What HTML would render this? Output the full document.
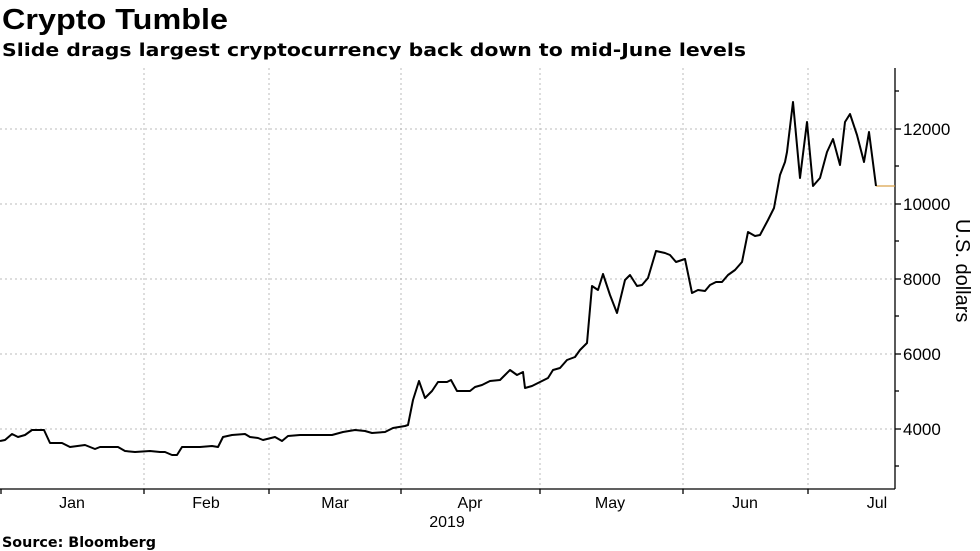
<!DOCTYPE html>
<html><head><meta charset="utf-8"><style>body{margin:0;background:#fff}svg{display:block}</style></head><body>
<svg width="980" height="551" xmlns="http://www.w3.org/2000/svg" font-family="Liberation Sans, DejaVu Sans, sans-serif">
<rect width="980" height="551" fill="#fff"/>
<text x="2" y="29" font-size="29" font-weight="bold" textLength="226" lengthAdjust="spacingAndGlyphs">Crypto Tumble</text>
<text x="2" y="56" font-size="18" font-weight="bold" font-family="DejaVu Sans, sans-serif" textLength="744" lengthAdjust="spacingAndGlyphs">Slide drags largest cryptocurrency back down to mid-June levels</text>
<g stroke="#bbb" stroke-dasharray="2,3" stroke-width="1">
<line x1="0" y1="129" x2="895" y2="129"/><line x1="0" y1="204" x2="895" y2="204"/><line x1="0" y1="279" x2="895" y2="279"/><line x1="0" y1="354" x2="895" y2="354"/><line x1="0" y1="429" x2="895" y2="429"/>
<line x1="144" y1="68" x2="144" y2="489"/><line x1="269" y1="68" x2="269" y2="489"/><line x1="401" y1="68" x2="401" y2="489"/><line x1="540" y1="68" x2="540" y2="489"/><line x1="683" y1="68" x2="683" y2="489"/><line x1="808" y1="68" x2="808" y2="489"/>
</g>
<g stroke="#000" stroke-width="1.3">
<line x1="0" y1="489" x2="895" y2="489"/><line x1="895" y1="68" x2="895" y2="489"/>
<line x1="1" y1="489" x2="1" y2="494"/><line x1="144" y1="489" x2="144" y2="494"/><line x1="269" y1="489" x2="269" y2="494"/><line x1="401" y1="489" x2="401" y2="494"/><line x1="540" y1="489" x2="540" y2="494"/><line x1="683" y1="489" x2="683" y2="494"/><line x1="808" y1="489" x2="808" y2="494"/>
<line x1="895" y1="91" x2="899" y2="91"/><line x1="895" y1="129" x2="901" y2="129"/><line x1="895" y1="166" x2="899" y2="166"/><line x1="895" y1="204" x2="901" y2="204"/><line x1="895" y1="241" x2="899" y2="241"/><line x1="895" y1="279" x2="901" y2="279"/><line x1="895" y1="316" x2="899" y2="316"/><line x1="895" y1="354" x2="901" y2="354"/><line x1="895" y1="391" x2="899" y2="391"/><line x1="895" y1="429" x2="901" y2="429"/><line x1="895" y1="466" x2="899" y2="466"/>
</g>
<g font-size="17" fill="#000">
<text x="903" y="135">12000</text><text x="903" y="210">10000</text><text x="903" y="285">8000</text><text x="903" y="360">6000</text><text x="903" y="435">4000</text>
</g>
<text transform="translate(956,219) rotate(90)" font-size="20">U.S. dollars</text>
<g font-size="16" text-anchor="middle">
<text x="72" y="508">Jan</text><text x="206" y="508">Feb</text><text x="335" y="508">Mar</text><text x="470" y="508">Apr</text><text x="610" y="508">May</text><text x="745" y="508">Jun</text><text x="877" y="508">Jul</text><text x="447" y="527">2019</text>
</g>
<text x="2" y="547" font-size="14" font-weight="bold" font-family="DejaVu Sans, sans-serif" textLength="154" lengthAdjust="spacingAndGlyphs">Source: Bloomberg</text>
<line x1="876" y1="186" x2="895" y2="186" stroke="#d9a24a" stroke-width="1.3"/>
<polyline fill="none" stroke="#000" stroke-width="2" stroke-linejoin="round" points="0,441 5,440 12,434 18,437 25,435 32,430 44,430 50,443 62,443 70,447 85,445 95,449 100,447 118,447 125,451 135,452 150,451 160,452 165,452 172,455 177,455 182,447 200,447 212,446 218,447 223,437 232,435 245,434 250,437 258,438 263,440 275,437 282,441 288,436 300,435 332,435 343,432 355,430 365,431 372,433 385,432 393,428 405,426 408,425 413,400 419,381 425,398 432,391 438,382 447,382 451,380 457,391 470,391 475,387 482,385 490,381 500,380 505,375 510,370 517,375 523,372 525,388 532,386 540,382 548,378 553,370 560,368 567,360 575,357 580,350 587,343 592,286 598,290 603,274 610,295 617,313 625,280 630,275 637,286 642,285 648,278 656,251 665,253 670,255 676,262 685,259 692,293 698,290 705,291 710,285 716,282 722,282 728,275 735,270 742,262 748,232 755,236 760,235 768,220 774,208 780,175 785,162 787,152 793,102 800,178 807,122 813,186 820,178 827,152 833,139 840,165 845,122 850,114 857,135 864,162 869,132 876,186"/>
</svg>
</body></html>
